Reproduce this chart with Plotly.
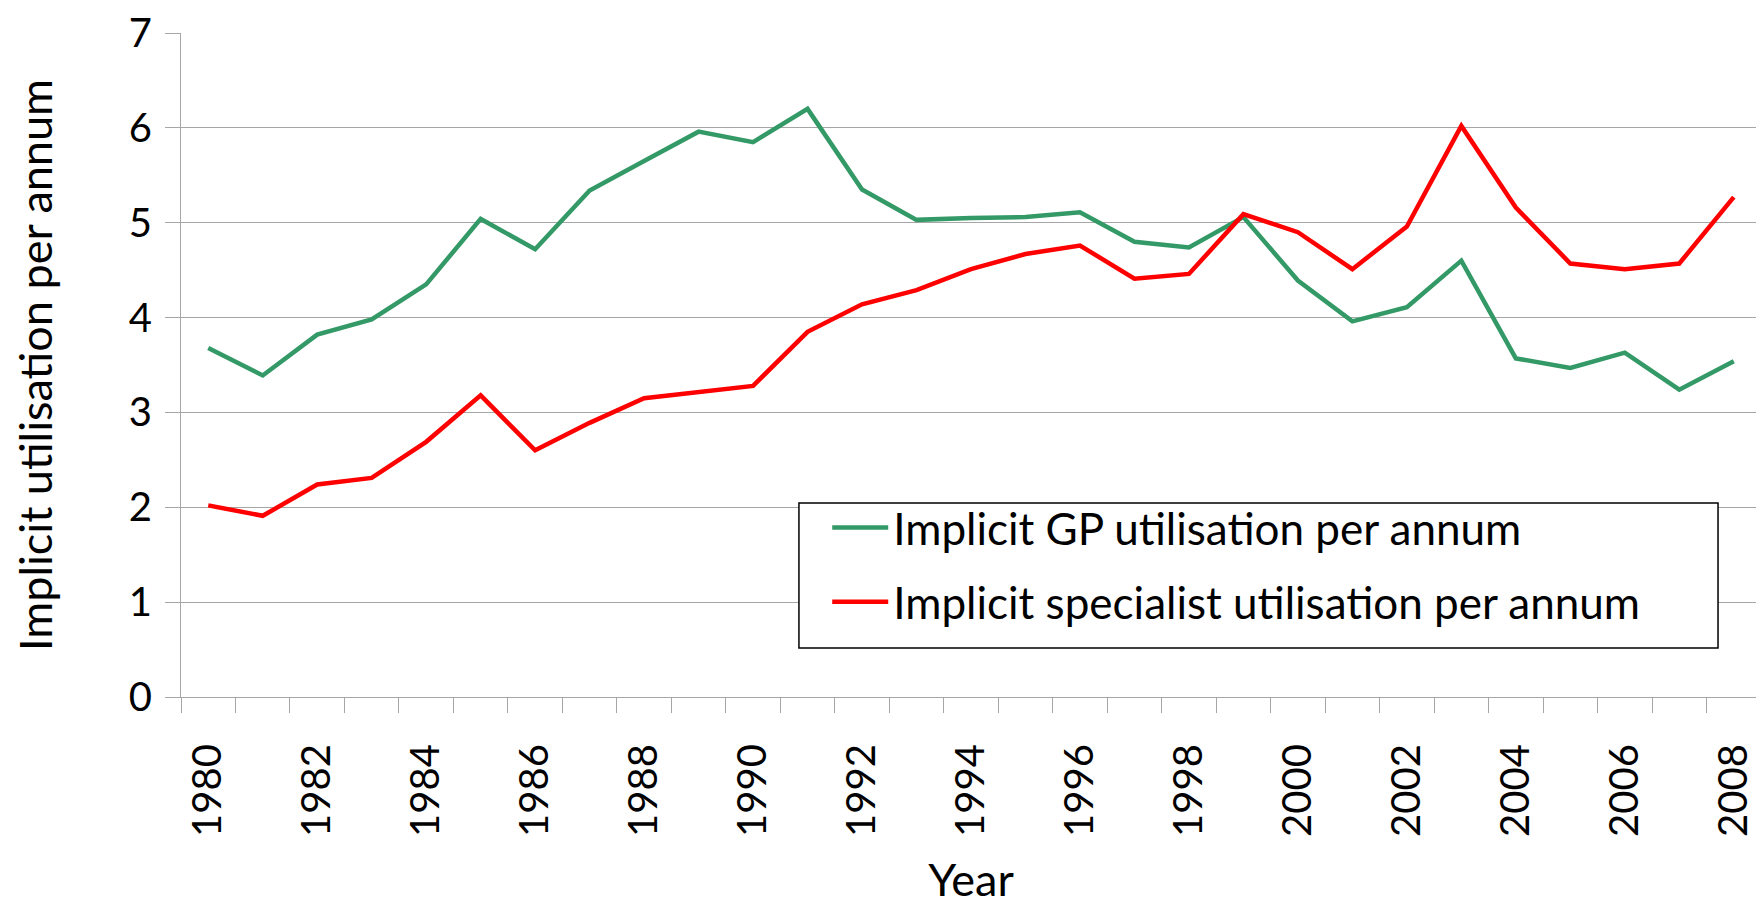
import plotly.graph_objects as go

years = list(range(1980, 2009))
gp_util = [3.68, 3.39, 3.82, 3.98, 4.35, 5.04, 4.72, 5.34, 5.65, 5.96,
           5.85, 6.20, 5.35, 5.03, 5.05, 5.06, 5.11, 4.80, 4.74, 5.06,
           4.39, 3.96, 4.11, 4.60, 3.57, 3.47, 3.63, 3.24, 3.54]
spec_util = [2.02, 1.91, 2.24, 2.31, 2.69, 3.18, 2.60, 2.89, 3.15, 3.22,
             3.28, 3.85, 4.14, 4.29, 4.51, 4.67, 4.76, 4.41, 4.46, 5.09,
             4.90, 4.51, 4.96, 6.02, 5.16, 4.57, 4.51, 4.57, 5.27]
tick_years = years[::2]
y_ticks = list(range(0, 8))

series_names = ["Implicit GP utilisation per annum",
                "Implicit specialist utilisation per annum"]
series_colors = ["#339966", "#FF0000"]

FONT = "Lato"
GRID = "#A6A6A6"

fig = go.Figure()
for i, (name, vals, col) in enumerate(zip(series_names, [gp_util, spec_util], series_colors)):
    fig.add_trace(go.Scatter(x=years, y=vals, mode="lines", name=name,
                             legendgroup=f"g{i}",
                             line=dict(color=col, width=4.5)))

boundaries = [y - 0.5 for y in years] + [years[-1] + 0.5]

# legend frame (Excel-style box, wider than the entries)
fig.add_shape(type="rect", xref="paper", yref="paper",
              x0=0.3911, x1=0.9728, y0=0.0738, y1=0.2922,
              line=dict(color="black", width=1.5), fillcolor="white",
              layer="above")

fig.update_layout(
    width=1764, height=903,
    margin=dict(l=173, r=11, t=25, b=214, autoexpand=False),
    plot_bgcolor="white", paper_bgcolor="white",
    font=dict(family=FONT, color="black"),
    showlegend=True,
    legend=dict(
        x=0.409, y=0.308, xanchor="left", yanchor="top",
        bgcolor="rgba(0,0,0,0)", borderwidth=0,
        font=dict(family=FONT, size=44, color="black"),
        itemwidth=56, traceorder="grouped", tracegroupgap=14,
    ),
    xaxis=dict(
        range=[years[0] - 0.5, years[-1] + 0.5],
        tickmode="array", tickvals=tick_years,
        ticktext=[str(t) for t in tick_years],
        ticks="", tickangle=-90,
        tickfont=dict(family=FONT, size=40, color="black"),
        ticklabelstandoff=30,
        showgrid=False, zeroline=False,
        showline=True, linecolor=GRID, linewidth=1.3,
        minor=dict(tickmode="array", tickvals=boundaries, ticks="outside",
                   ticklen=15, tickcolor=GRID, tickwidth=1.3, showgrid=False),
        title=dict(text="Year", font=dict(family=FONT, size=45, color="black"),
                   standoff=28),
        automargin=False,
    ),
    yaxis=dict(
        range=[0, 7], tickmode="array", tickvals=y_ticks,
        ticks="outside", ticklen=15, tickcolor=GRID, tickwidth=1.3,
        tickfont=dict(family=FONT, size=40, color="black"),
        ticklabelstandoff=5,
        showgrid=True, gridcolor=GRID, gridwidth=1.3,
        zeroline=False,
        showline=True, linecolor=GRID, linewidth=1.3,
        title=dict(text="Implicit utilisation per annum",
                   font=dict(family=FONT, size=45, color="black"),
                   standoff=66),
        automargin=False,
    ),
)

fig.write_html("out.html")
